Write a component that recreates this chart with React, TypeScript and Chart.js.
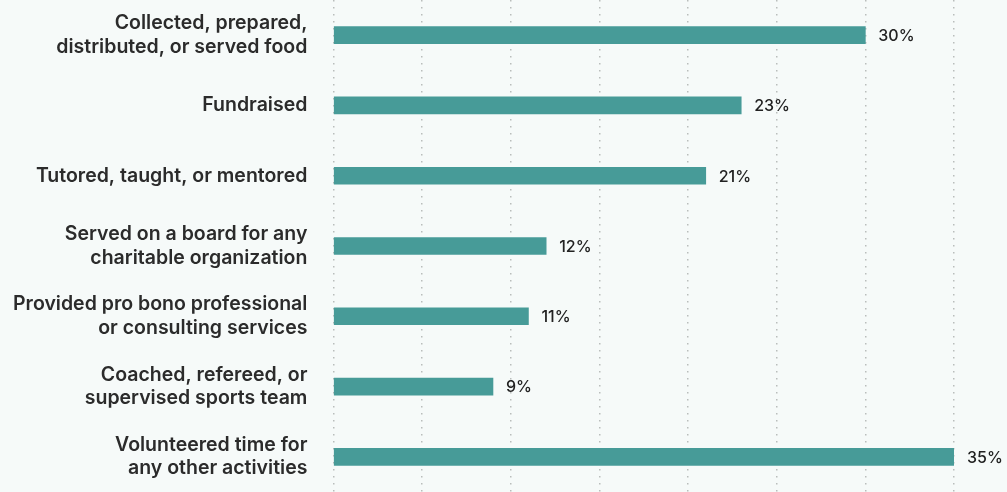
import React, { useEffect, useRef } from "react";
import { Chart, registerables } from "chart.js";

Chart.register(...registerables);

const categories: string[][] = [
  ["Collected, prepared,", "distributed, or served food"],
  ["Fundraised"],
  ["Tutored, taught, or mentored"],
  ["Served on a board for any", "charitable organization"],
  ["Provided pro bono professional", "or consulting services"],
  ["Coached, refereed, or", "supervised sports team"],
  ["Volunteered time for", "any other activities"],
];
const values: number[] = [30, 23, 21, 12, 11, 9, 35];
const xTicks: number[] = [0, 5, 10, 15, 20, 25, 30, 35];

const BG = "#f6faf9";
const BAR = "#479b98";
const FAMILY = "Inter, 'Noto Sans', sans-serif";
const LABEL_PAD = 26;

const valueLabels = {
  id: "valueLabels",
  afterDatasetsDraw(chart: any) {
    const { ctx } = chart;
    const meta = chart.getDatasetMeta(0);
    ctx.save();
    ctx.font = "500 16px " + FAMILY;
    ctx.fillStyle = "#222222";
    ctx.textAlign = "left";
    ctx.textBaseline = "middle";
    meta.data.forEach((bar: any, i: number) => {
      ctx.fillText(values[i] + "%", bar.x + 13, bar.y + 1);
    });
    ctx.restore();
  },
};

export default function App() {
  const ref = useRef<HTMLCanvasElement | null>(null);
  useEffect(() => {
    document.body.style.margin = "0";
    document.body.style.background = BG;
    let chart: any = null;
    let cancelled = false;
    const make = () => {
      if (cancelled || !ref.current) return;
      chart = new Chart(ref.current, {
        type: "bar",
        data: {
          labels: categories,
          datasets: [
            {
              data: values,
              backgroundColor: BAR,
              barThickness: 17,
              borderWidth: 0,
            },
          ],
        },
        options: {
          indexAxis: "y",
          animation: false,
          responsive: false,
          maintainAspectRatio: false,
          layout: { padding: { left: 13, right: 53, top: 0, bottom: 0 } },
          plugins: {
            legend: { display: false },
            tooltip: { enabled: false },
          },
          scales: {
            x: {
              type: "linear",
              min: 0,
              max: 35,
              afterBuildTicks(scale: any) {
                scale.ticks = xTicks.map((v) => ({ value: v }));
              },
              ticks: { display: false },
              border: { display: false, dash: [1.5, 5.5] },
              grid: {
                color: "#b9bdbc",
                lineWidth: 1.5,
                drawTicks: false,
              },
            } as any,
            y: {
              type: "category",
              offset: true,
              afterFit(scale: any) {
                scale.paddingTop = 0;
                scale.paddingBottom = 0;
                scale.width -= LABEL_PAD;
              },
              grid: { display: false, drawTicks: false },
              border: { display: false },
              ticks: {
                color: "#2b2b2b",
                padding: LABEL_PAD,
                font: {
                  family: FAMILY,
                  size: 19.5,
                  weight: "600",
                  lineHeight: 1.2,
                },
              },
            } as any,
          },
        },
        plugins: [valueLabels],
      });
    };
    const fonts: any = (document as any).fonts;
    if (fonts && fonts.load) {
      Promise.all([
        fonts.load("600 19.5px Inter"),
        fonts.load("500 16px Inter"),
      ])
        .catch(() => null)
        .then(() => make());
    } else {
      make();
    }
    return () => {
      cancelled = true;
      if (chart) chart.destroy();
    };
  }, []);
  return (
    <div style={{ width: 1007, height: 492, background: BG }}>
      <canvas ref={ref} width={1007} height={492} style={{ display: "block" }} />
    </div>
  );
}
